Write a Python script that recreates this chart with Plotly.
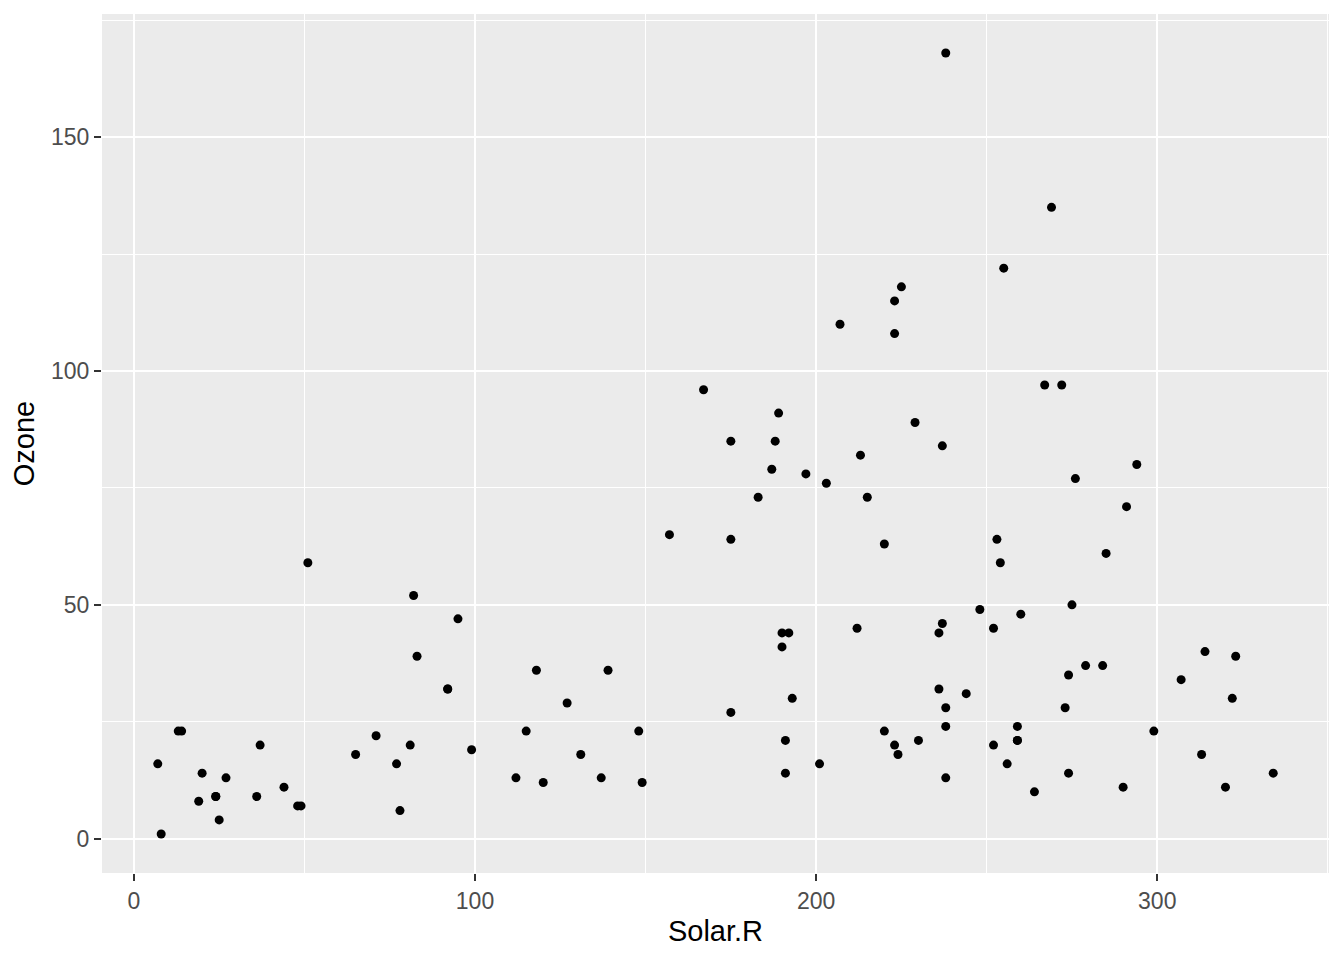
import plotly.graph_objects as go

# airquality complete cases: Solar.R vs Ozone
solar_r = [190, 118, 149, 313, 299, 99, 19, 256, 290, 274, 65, 334, 307, 78, 322, 44, 8, 320, 25, 92,
           13, 252, 223, 279, 127, 291, 323, 148, 191, 284, 37, 120, 137, 269, 248, 236, 175, 314, 276, 267,
           272, 175, 264, 175, 48, 260, 274, 285, 187, 220, 7, 294, 223, 81, 82, 213, 275, 253, 254, 83,
           24, 77, 255, 229, 207, 192, 273, 157, 71, 51, 115, 244, 190, 259, 36, 212, 238, 215, 203, 225,
           237, 188, 167, 197, 183, 189, 95, 92, 252, 220, 230, 259, 236, 259, 238, 24, 112, 237, 224, 27,
           238, 201, 238, 14, 139, 49, 20, 193, 191, 131, 223]
ozone = [41, 36, 12, 18, 23, 19, 8, 16, 11, 14, 18, 14, 34, 6, 30, 11, 1, 11, 4, 32,
         23, 45, 115, 37, 29, 71, 39, 23, 21, 37, 20, 12, 13, 135, 49, 32, 64, 40, 77, 97,
         97, 85, 10, 27, 7, 48, 35, 61, 79, 63, 16, 80, 108, 20, 52, 82, 50, 64, 59, 39,
         9, 16, 122, 89, 110, 44, 28, 65, 22, 59, 23, 31, 44, 21, 9, 45, 168, 73, 76, 118,
         84, 85, 96, 78, 73, 91, 47, 32, 20, 23, 21, 24, 44, 21, 28, 9, 13, 46, 18, 13,
         24, 16, 13, 23, 36, 7, 14, 30, 14, 18, 20]

x_ticks = [0, 100, 200, 300]
y_ticks = [0, 50, 100, 150]

FONT = "Liberation Sans, Arial, sans-serif"

fig = go.Figure()
fig.add_trace(
    go.Scatter(
        x=solar_r,
        y=ozone,
        mode="markers",
        marker=dict(color="black", size=9, line=dict(width=0)),
        showlegend=False,
    )
)

axis_common = dict(
    showgrid=True,
    gridcolor="white",
    gridwidth=2,
    zeroline=False,
    ticks="outside",
    ticklen=7,
    tickwidth=2,
    tickcolor="#333333",
    tickfont=dict(family=FONT, size=23, color="#4D4D4D"),
    showline=False,
)

fig.update_xaxes(
    range=[-9.35, 350.35],
    tickvals=x_ticks,
    title=dict(text="Solar.R", font=dict(family=FONT, size=29, color="black"), standoff=8),
    minor=dict(dtick=50, tick0=50, showgrid=True, gridcolor="white", gridwidth=1),
    **axis_common,
)
fig.update_yaxes(
    range=[-7.35, 176.35],
    tickvals=y_ticks,
    title=dict(text="Ozone", font=dict(family=FONT, size=29, color="black"), standoff=7),
    minor=dict(dtick=25, tick0=25, showgrid=True, gridcolor="white", gridwidth=1),
    **axis_common,
)

# page body has an 8px margin, so the plot area is shifted back by that much
fig.update_layout(
    width=1344,
    height=960,
    margin=dict(l=94, r=23, t=6, b=95, autoexpand=False),
    paper_bgcolor="white",
    plot_bgcolor="#EBEBEB",
    font=dict(family=FONT),
)

fig.write_html("out.html")
